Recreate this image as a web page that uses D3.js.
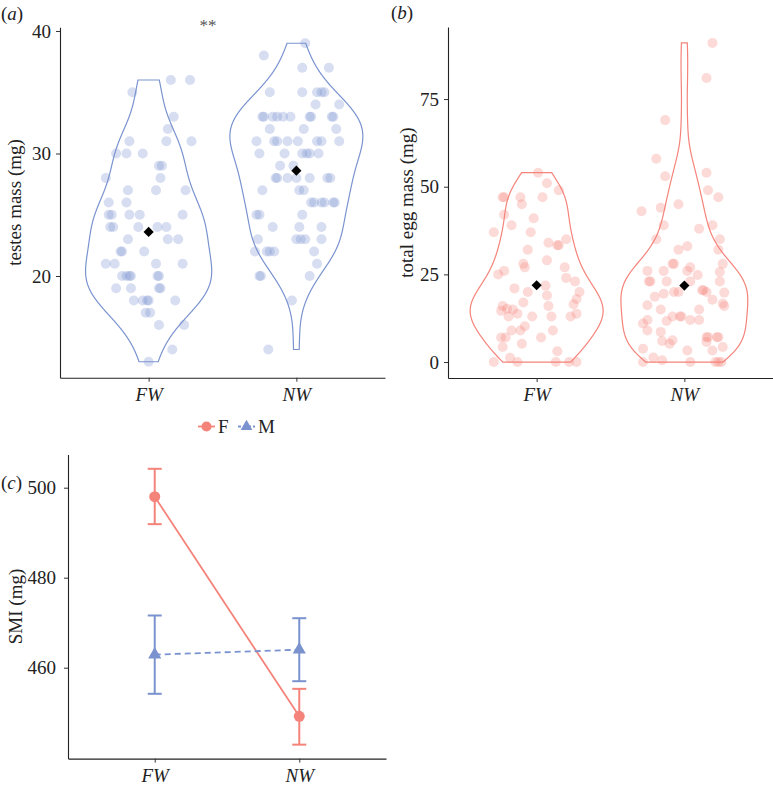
<!DOCTYPE html>
<html><head><meta charset="utf-8">
<script src="https://cdn.jsdelivr.net/npm/d3@7"></script>
<style>
body{margin:0;background:#fff}
text{font-family:"Liberation Serif","DejaVu Serif","Times New Roman",serif;fill:#222}
</style>
</head><body>
<svg id="chart" width="773" height="786"></svg>
<script>
// ---------------- DATA ----------------
const groups = ["FW", "NW"];
const sexes = ["F", "M"];

// panel (a): testes mass (mg), [value, horizontal jitter in category units]
const testesFW = [[36,0.15],[36,0.28],[35,-0.11],[33,0.17],[32,0.13],[31,-0.13],[31,0.12],[31,0.29],
 [30,-0.22],[30,-0.15],[30,-0.04],[29,0.07],[29,0.09],[28,-0.29],[28,0.08],[27,-0.14],[27,0.05],[27,0.25],
 [26,-0.27],[26,-0.15],[25,-0.27],[25,-0.25],[25,-0.13],[25,-0.06],[25,0.23],
 [24,-0.26],[24,-0.24],[24,-0.07],[24,0.06],[24,0.12],[23,-0.14],[23,0.13],[23,0.20],
 [22,-0.19],[22,-0.18],[22,-0.03],[21,-0.29],[21,-0.23],[21,0.05],[21,0.23],
 [20,-0.18],[20,-0.15],[20,-0.13],[20,-0.12],[20,0.06],[20,0.07],[19,-0.22],[19,-0.12],[19,0.07],[19,0.08],
 [18,-0.10],[18,-0.04],[18,-0.01],[18,0.0],[18,0.18],[17,-0.02],[17,0.01],[16,0.07],[16,0.24],[14,0.16],[13,0.0]];
const testesNW = [[39,0.06],[38,-0.22],[37,0.04],[37,0.22],[35,-0.18],[35,0.04],[35,0.14],[35,0.17],[35,0.19],
 [34,0.13],[34,0.29],[33,-0.23],[33,-0.22],[33,-0.16],[33,-0.13],[33,-0.09],[33,-0.04],[33,0.09],[33,0.10],[33,0.24],[33,0.25],
 [32,-0.18],[32,0.05],[32,0.27],[31,-0.27],[31,-0.15],[31,-0.13],[31,-0.06],[31,0.01],[31,0.14],[31,0.17],[31,0.29],
 [30,-0.25],[30,-0.08],[30,0.04],[30,0.07],[30,0.09],[30,0.15],[29,-0.11],[29,-0.02],
 [28,-0.14],[28,-0.13],[28,-0.06],[28,0.0],[28,0.09],[28,0.21],[28,0.23],[27,-0.23],[27,0.02],[27,0.05],
 [26,0.10],[26,0.12],[26,0.17],[26,0.19],[26,0.25],[26,0.26],[25,-0.27],[25,-0.25],[25,0.04],
 [24,-0.16],[24,0.02],[24,0.17],[23,-0.26],[23,0.0],[23,0.03],[23,0.06],[23,0.17],
 [22,-0.28],[22,-0.20],[22,-0.18],[22,-0.15],[22,0.12],[21,0.14],[20,-0.25],[20,-0.24],[20,0.09],[18,-0.03],[14,-0.19]];
const testesMeans = [23.6, 28.6];

// panel (b): total egg mass (mg)
const eggFW = [[54,0.01],[51,0.07],[49,0.15],[47,-0.23],[47,-0.22],[47,-0.11],[47,0.04],[45,-0.10],[42,-0.22],
 [41,-0.02],[39,-0.17],[37,-0.29],[37,-0.04],[35,0.20],[34,0.08],[33.3,0.14],[33.3,0.15],[32,-0.06],[29,0.07],
 [28,-0.09],[27,-0.08],[27,0.19],[26,-0.22],[25,-0.26],[24,0.20],[23,0.26],[21.8,0.06],[21,-0.15],[20,-0.06],[20,0.29],
 [19,0.07],[18,0.27],[17,-0.09],[16.5,0.25],[16,0.08],[16,-0.23],[15.2,-0.20],[15,-0.16],[14.6,-0.24],
 [13.8,-0.13],[13.8,0.27],[13,-0.19],[13,-0.03],[13,0.10],[13,0.23],[10.2,-0.08],[9,-0.17],[9,-0.11],[9,0.11],
 [7,-0.24],[7,-0.21],[7,0.03],[5.2,-0.10],[4.3,-0.23],[3.1,0.14],[1.2,-0.18],[0,-0.29],[0,-0.13],[0,0.13],[0,0.22],[0,0.27]];
const eggNW = [[91,0.19],[81,0.15],[69,-0.13],[58,-0.19],[54,0.15],[53,-0.13],[49,0.16],[47,0.23],[45,-0.04],
 [44,-0.16],[43,-0.29],[39,-0.14],[39,0.19],[38,0.10],[35,0.24],[35,-0.19],[33,0.02],[32,-0.04],[32,0.23],
 [28,0.26],[28,-0.07],[28,-0.08],[27,0.04],[26,-0.25],[26,-0.14],[26,0.02],[25.7,0.24],[24.8,0.09],
 [23,-0.24],[23,-0.23],[23,-0.12],[23,0.04],[23,0.24],[20.5,0.12],[20.5,0.13],[20,-0.07],[20,-0.04],[20,0.15],
 [19.8,0.27],[19.5,-0.14],[18.6,-0.20],[17.8,0.19],[16.7,0.26],[16.2,-0.25],[16,0.27],[15,-0.16],[15,0.10],
 [13,-0.08],[13,-0.03],[13,-0.02],[12,-0.25],[12,0.04],[12,0.10],[11.7,-0.12],[11,-0.28],[9,-0.25],[8.6,-0.16],
 [7.1,0.15],[7.1,0.16],[7.1,0.22],[7.1,0.23],[6.2,-0.08],[6,-0.15],[5.7,0.15],[5.2,-0.10],[4.3,0.26],[3.8,-0.28],
 [3.3,0.19],[3.3,0.02],[1.3,-0.21],[0.5,-0.15],[0,-0.28],[0,0.04],[0,0.21],[0,0.23],[0,0.25]];
const eggMeans = [21.9, 21.8];

// panel (c): SMI (mg), mean and error-bar limits for FW, NW
const smiF = [498.0, 449.2];
const smiFlow = [491.9, 442.9];
const smiFhigh = [504.2, 455.3];
const smiM = [462.9, 464.0];
const smiMlow = [454.2, 457.0];
const smiMhigh = [471.6, 471.0];

const testesTicks = [20, 30, 40];
const eggTicks = [0, 25, 50, 75];
const smiTicks = [460, 480, 500];

// ---------------- STYLE ----------------
const RED = "#F4837A", BLUE = "#7A93CF";
const svg = d3.select("#chart");
const FS = 19;

function kde(values, n = 512) {
  const s = values.slice().sort(d3.ascending);
  const sd = d3.deviation(s);
  const iqr = d3.quantile(s, 0.75) - d3.quantile(s, 0.25);
  const bw = 0.9 * Math.min(sd, iqr / 1.34) * Math.pow(s.length, -0.2);
  const lo = s[0], hi = s[s.length - 1];
  return d3.range(n).map(i => {
    const y = lo + (hi - lo) * i / (n - 1);
    const d = d3.mean(s, v => Math.exp(-0.5 * ((y - v) / bw) ** 2)) / (bw * Math.sqrt(2 * Math.PI));
    return [y, d];
  });
}

function styleAxis(g) {
  g.attr("font-family", null).attr("font-size", null);
  g.select(".domain").attr("stroke", "#222").attr("stroke-width", 1.1);
  g.selectAll(".tick line").attr("stroke", "#333").attr("stroke-width", 1);
  g.selectAll(".tick text").attr("font-size", FS).attr("fill", "#222");
}

function violinPanel(opt) {
  const {x0, x1, y0, y1, ydom, ticks, datasets, means, color, title, titleX} = opt;
  const x = d3.scaleLinear().domain([0.4, 2.6]).range([x0, x1]);
  const y = d3.scaleLinear().domain(ydom).range([y0, y1]);
  const g = svg.append("g");
  const dens = datasets.map(ds => kde(ds.map(d => d[0])));
  const maxD = d3.max(dens, d => d3.max(d, e => e[1]));
  const unit = x(1) - x(0);
  dens.forEach((dd, i) => {
    const cx = x(i + 1);
    const hw = e => e[1] / maxD * 0.45 * unit;
    const right = dd.map(e => [cx + hw(e), y(e[0])]);
    const left = dd.slice().reverse().map(e => [cx - hw(e), y(e[0])]);
    g.append("path").attr("d", d3.line()(right.concat(left)) + "Z")
      .attr("fill", "none").attr("stroke", color).attr("stroke-width", 1.2);
  });
  datasets.forEach((ds, i) => {
    g.selectAll(null).data(ds).enter().append("circle")
      .attr("cx", d => x(i + 1 + d[1])).attr("cy", d => y(d[0])).attr("r", 5)
      .attr("fill", color).attr("fill-opacity", 0.3);
  });
  means.forEach((m, i) => {
    g.append("path").attr("d", d3.symbol(d3.symbolSquare, 52)())
      .attr("transform", `translate(${x(i + 1)},${y(m)}) rotate(45)`).attr("fill", "#000");
  });
  const ax = g.append("g").attr("transform", `translate(${x0},0)`)
    .call(d3.axisLeft(y).tickValues(ticks).tickSize(4).tickPadding(5).tickSizeOuter(0));
  styleAxis(ax);
  const bx = g.append("g").attr("transform", `translate(0,${y0})`)
    .call(d3.axisBottom(x).tickValues([1, 2]).tickFormat(d => groups[d - 1]).tickSize(4).tickPadding(6).tickSizeOuter(0));
  styleAxis(bx);
  bx.selectAll(".tick text").attr("font-style", "italic");
  g.append("text").attr("transform", `translate(${titleX},${(y0 + y1) / 2}) rotate(-90)`)
    .attr("text-anchor", "middle").attr("dy", "0.35em").attr("font-size", FS).text(title);
  return {x, y};
}

// panel (a)
violinPanel({x0: 60, x1: 385, y0: 377.7, y1: 27.3, ydom: [11.7, 40.3], ticks: testesTicks,
  datasets: [testesFW, testesNW], means: testesMeans, color: BLUE, title: "testes mass (mg)", titleX: 14});
// panel (b)
violinPanel({x0: 448, x1: 773, y0: 378, y1: 27, ydom: [-4.55, 95.55], ticks: eggTicks,
  datasets: [eggFW, eggNW], means: eggMeans, color: RED, title: "total egg mass (mg)", titleX: 406});

// panel labels
function plabel(x, y, letter) {
  const t = svg.append("text").attr("x", x).attr("y", y).attr("font-size", FS);
  t.append("tspan").text("(");
  t.append("tspan").attr("font-style", "italic").text(letter);
  t.append("tspan").text(")");
}
plabel(1, 20, "a");
plabel(391, 19, "b");
plabel(1, 489, "c");
svg.append("text").attr("x", 208).attr("y", 31).attr("text-anchor", "middle")
  .attr("font-size", 17).style("fill", "#555").text("**");

// ---------------- panel (c) ----------------
const xc = d3.scaleLinear().domain([0.4, 2.6]).range([68, 386]);
const yc = d3.scaleLinear().domain([439.8, 507.4]).range([758.6, 454.4]);
const gc = svg.append("g");
const series = [
  {name: sexes[0], mean: smiF, lo: smiFlow, hi: smiFhigh, color: RED, dash: null, sym: d3.symbolCircle},
  {name: sexes[1], mean: smiM, lo: smiMlow, hi: smiMhigh, color: BLUE, dash: "6,4", sym: d3.symbolTriangle}
];
series.forEach(s => {
  gc.append("path").attr("d", d3.line().x((d, i) => xc(i + 1)).y(d => yc(d))(s.mean))
    .attr("fill", "none").attr("stroke", s.color).attr("stroke-width", 1.8)
    .attr("stroke-dasharray", s.dash);
  s.mean.forEach((m, i) => {
    const cx = xc(i + 1);
    gc.append("line").attr("x1", cx).attr("x2", cx).attr("y1", yc(s.lo[i])).attr("y2", yc(s.hi[i]))
      .attr("stroke", s.color).attr("stroke-width", 2);
    [s.lo[i], s.hi[i]].forEach(v => gc.append("line").attr("x1", cx - 7).attr("x2", cx + 7)
      .attr("y1", yc(v)).attr("y2", yc(v)).attr("stroke", s.color).attr("stroke-width", 2));
  });
  s.mean.forEach((m, i) => {
    gc.append("path").attr("d", d3.symbol(s.sym, s.sym === d3.symbolCircle ? 95 : 75)())
      .attr("transform", `translate(${xc(i + 1)},${yc(m)})`).attr("fill", s.color);
  });
});
const axc = gc.append("g").attr("transform", "translate(68,0)")
  .call(d3.axisLeft(yc).tickValues(smiTicks).tickSize(4).tickPadding(8).tickSizeOuter(0));
styleAxis(axc);
const bxc = gc.append("g").attr("transform", "translate(0,758.6)")
  .call(d3.axisBottom(xc).tickValues([1, 2]).tickFormat(d => groups[d - 1]).tickSize(4).tickPadding(6).tickSizeOuter(0));
styleAxis(bxc);
bxc.selectAll(".tick text").attr("font-style", "italic");
gc.append("text").attr("transform", `translate(15,${(758.6 + 454.4) / 2}) rotate(-90)`)
  .attr("text-anchor", "middle").attr("dy", "0.35em").attr("font-size", FS).text("SMI (mg)");

// legend
const lg = svg.append("g");
const legendX = [198, 238];
series.forEach((s, i) => {
  const lx = legendX[i], ly = 426.5;
  lg.append("line").attr("x1", lx).attr("x2", lx + 17).attr("y1", ly).attr("y2", ly)
    .attr("stroke", s.color).attr("stroke-width", 1.8).attr("stroke-dasharray", s.dash ? "3,2" : null);
  lg.append("path").attr("d", d3.symbol(s.sym, s.sym === d3.symbolCircle ? 80 : 60)())
    .attr("transform", `translate(${lx + 8.5},${ly})`).attr("fill", s.color);
  lg.append("text").attr("x", lx + 20).attr("y", ly).attr("dy", "0.35em").attr("font-size", FS).text(s.name);
});
</script>
</body></html>
